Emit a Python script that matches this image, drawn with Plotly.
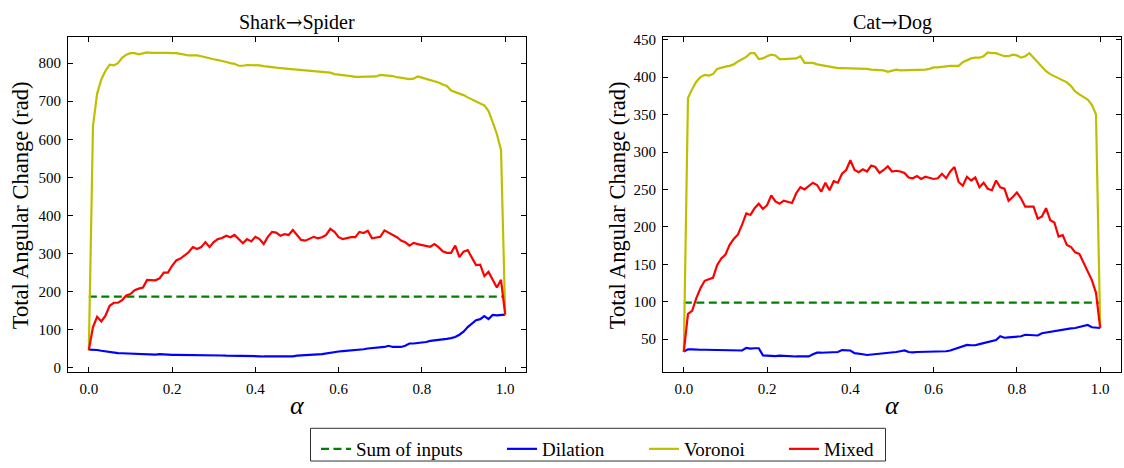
import plotly.graph_objects as go

# Interpolation parameter (sampled every 0.01)
alpha = [round(i * 0.01, 2) for i in range(101)]

# ---- Shark -> Spider ----
shark_sum_inputs = 187
shark_dilation = [
    48, 48, 47, 45, 43, 41, 40, 39, 38.5, 38,
    37, 36.5, 36, 35.5, 35, 34, 35, 36, 35, 34.5,
    34, 34, 34, 33.5, 33.5, 34, 33.5, 33, 33, 33,
    33, 32.5, 32.5, 32, 32, 32, 31.5, 31.5, 31, 31,
    31, 30.5, 30, 30, 30, 30, 30, 30, 30, 30.5,
    32, 33, 34, 34.5, 35, 35.5, 36, 38, 41, 42,
    43, 44, 45, 45, 46, 47, 49, 51, 52, 53,
    54, 55, 58, 55, 55, 55, 58, 64, 64, 65,
    66, 68, 71, 72, 73, 75, 76, 78, 81, 87,
    95, 107, 117, 125, 128, 136, 128, 139, 138, 140,
    140,
]
shark_voronoi = [
    45, 635, 720, 757, 780, 796, 794, 800, 814, 822,
    826, 826, 823, 826, 828, 827, 827, 828, 828, 827,
    826, 826, 824, 821, 820, 820, 820, 818, 815, 812,
    810, 808, 806, 803, 800, 798, 793, 793, 795, 795,
    795, 794, 792, 790, 789, 788, 787, 786, 785, 784,
    783, 782, 781, 780, 779, 778, 777, 777, 775, 771,
    769, 768, 767, 766, 764, 764, 764, 764, 764, 765,
    769, 768, 768, 766, 763, 761, 760, 758, 759, 765,
    762, 759, 756, 752, 749, 744, 740, 728, 724, 722,
    716, 710, 704, 700, 694, 689, 674, 645, 614, 572,
    140,
]
shark_mixed = [
    47, 107, 134, 122, 137, 163, 171, 171, 178, 190,
    194, 204, 208, 211, 231, 231, 230, 235, 250, 250,
    268, 282, 287, 295, 304, 317, 312, 317, 330, 317,
    330, 338, 341, 347, 343, 349, 338, 327, 338, 332,
    344, 338, 325, 344, 357, 355, 347, 351, 349, 362,
    349, 336, 334, 338, 344, 340, 343, 349, 365, 357,
    343, 338, 340, 343, 343, 357, 354, 360, 340, 343,
    344, 361, 355, 349, 343, 334, 330, 321, 328, 325,
    323, 321, 318, 325, 317, 306, 302, 302, 321, 291,
    305, 309, 289, 270, 271, 241, 252, 231, 211, 231,
    140,
]

# ---- Cat -> Dog ----
cat_sum_inputs = 99
cat_dilation = [
    33.5, 36.5, 36.5, 36, 36, 36, 36, 36, 36, 36,
    36, 36, 35.5, 35.5, 35, 38.5, 37.5, 38, 38, 28.5,
    28, 27.5, 27.5, 28, 27.5, 27.5, 27, 27, 27, 27,
    27, 30, 32, 32, 32, 32.5, 32.5, 33, 35.5, 35.5,
    35, 31.5, 31, 30, 29, 29.5, 30, 31, 31.5, 32,
    32.5, 33, 34, 35, 33, 32.5, 33, 33, 33.5, 33.5,
    33.5, 33, 33.5, 34, 35, 37, 39.5, 41, 42.5, 42,
    42, 43.5, 45, 46, 47, 49, 54, 52, 52.5, 53,
    53, 54, 56, 56, 55.5, 55, 58, 59, 59, 60.5,
    61.5, 62.5, 63.5, 64.5, 65, 66, 67.5, 69, 66, 65.5,
    65,
]
cat_voronoi = [
    33, 372, 384, 394, 400, 403, 402, 404, 411, 413,
    414, 415, 417, 421, 424, 427, 432, 432, 424, 425,
    428, 430, 429, 424, 424, 424, 425, 425, 428, 419,
    419, 419, 417, 416, 414, 413, 413, 412, 412, 412,
    412, 412, 412, 411, 411, 410, 410, 410, 409, 407,
    409, 410, 409, 409, 410, 410, 410, 410, 410, 411,
    413, 413, 414, 414, 415, 415, 415, 420, 423, 425,
    426, 426, 428, 433, 432, 432, 430, 428, 428, 430,
    429, 426, 428, 432, 426, 420, 414, 408, 404, 401,
    399, 396, 393, 388, 381, 377, 374, 370, 363, 350,
    65,
]
cat_mixed = [
    33, 84, 88, 105, 118, 128, 130, 132, 149, 158,
    163, 176, 184, 190, 203, 218, 216, 225, 231, 224,
    229, 242, 234, 231, 235, 233, 232, 245, 253, 250,
    255, 259, 256, 247, 259, 249, 261, 259, 271, 276,
    289, 276, 273, 277, 274, 282, 280, 272, 276, 281,
    274, 275, 274, 272, 266, 265, 268, 264, 267, 265,
    264, 265, 271, 265, 274, 280, 260, 255, 267, 262,
    266, 253, 259, 251, 249, 262, 253, 251, 235, 240,
    246, 238, 227, 227, 227, 211, 214, 225, 209, 206,
    187, 189, 176, 173, 166, 164, 153, 142, 129, 112,
    65,
]

ARROW = "<span style=\"font-family:'DejaVu Serif'\">\u2192</span>"
panel_titles = ["Shark" + ARROW + "Spider", "Cat" + ARROW + "Dog"]
series_names = ["Sum of inputs", "Dilation", "Voronoi", "Mixed"]
series_colors = ["#008000", "#0000ff", "#bfbf00", "#ff0000"]

W, H = 1124, 468
FONT = "'Liberation Serif', 'Times New Roman', Times, serif"


def px_x(p):
    return p / W


def px_y(p):
    return (H - p) / H


fig = go.Figure()

panels = [
    (shark_sum_inputs, shark_dilation, shark_voronoi, shark_mixed),
    (cat_sum_inputs, cat_dilation, cat_voronoi, cat_mixed),
]
legend_ids = ["legend", "legend2", "legend3", "legend4"]

for k, (sum_in, dil, vor, mix) in enumerate(panels):
    xa = "x" if k == 0 else "x2"
    ya = "y" if k == 0 else "y2"
    show = k == 0
    fig.add_trace(go.Scatter(
        x=[alpha[0], alpha[-1]], y=[sum_in, sum_in], mode="lines",
        line=dict(color=series_colors[0], width=2.2, dash="8px,4.5px"),
        name=series_names[0], showlegend=show, legend=legend_ids[0],
        xaxis=xa, yaxis=ya))
    for j, ys in enumerate([dil, vor, mix], start=1):
        fig.add_trace(go.Scatter(
            x=alpha, y=ys, mode="lines",
            line=dict(color=series_colors[j], width=2.2),
            name=series_names[j], showlegend=show, legend=legend_ids[j],
            xaxis=xa, yaxis=ya))


def y_range(*series):
    lo = min(min(s) for s in series)
    hi = max(max(s) for s in series)
    pad = 0.05 * (hi - lo)
    return [lo - pad, hi + pad]


axis_common = dict(
    showline=True, linecolor="black", linewidth=1.2, mirror="allticks",
    ticks="inside", ticklen=5, tickwidth=1, tickcolor="black",
    showgrid=False, zeroline=False, ticklabelstandoff=3,
    tickfont=dict(family=FONT, size=15, color="black"),
)

x_dom = [[px_x(68), px_x(526)], [px_x(663), px_x(1121)]]
y_dom = [px_y(375.5), px_y(33)]

fig.update_layout(
    width=W, height=H,
    margin=dict(l=0, r=0, t=0, b=0),
    paper_bgcolor="white", plot_bgcolor="white",
    font=dict(family=FONT, color="black"),
    xaxis=dict(domain=x_dom[0], range=[-0.05, 1.05], tickvals=[0, 0.2, 0.4, 0.6, 0.8, 1.0],
               tickformat=".1f", anchor="y", **axis_common),
    yaxis=dict(domain=y_dom, range=y_range(shark_dilation, shark_voronoi, shark_mixed),
               dtick=100, tick0=0, anchor="x", **axis_common),
    xaxis2=dict(domain=x_dom[1], range=[-0.05, 1.05], tickvals=[0, 0.2, 0.4, 0.6, 0.8, 1.0],
                tickformat=".1f", anchor="y2", **axis_common),
    yaxis2=dict(domain=y_dom, range=y_range(cat_dilation, cat_voronoi, cat_mixed),
                dtick=50, tick0=0, anchor="x2", **axis_common),
)

# One legend per entry so each sits at its own horizontal slot
legend_starts = [316, 502, 644, 784]
for lid, xs in zip(legend_ids, legend_starts):
    fig.update_layout({lid: dict(
        x=px_x(xs), xanchor="left", y=px_y(455), yanchor="middle",
        orientation="h", bgcolor="rgba(0,0,0,0)", borderwidth=0,
        font=dict(family=FONT, size=19, color="black"),
        itemwidth=30, tracegroupgap=0,
    )})

# Frame around the legend row
fig.add_shape(type="rect", xref="paper", yref="paper",
              x0=px_x(310.5), x1=px_x(885.5), y0=px_y(467), y1=px_y(433.5),
              line=dict(color="#333333", width=1), fillcolor="rgba(0,0,0,0)")

annotations = []
centers = [297, 892]
for k in range(2):
    annotations.append(dict(
        text=panel_titles[k], x=px_x(centers[k]), y=px_y(17), xref="paper", yref="paper",
        showarrow=False, xanchor="center", yanchor="middle",
        font=dict(family=FONT, size=20, color="black")))
    annotations.append(dict(
        text="<i>\u03b1</i>", x=px_x(centers[k]), y=px_y(410), xref="paper", yref="paper",
        showarrow=False, xanchor="center", yanchor="middle",
        font=dict(family=FONT, size=26, color="black")))
for xc in [20, 617]:
    annotations.append(dict(
        text="Total Angular Change (rad)", x=px_x(xc), y=px_y(205), xref="paper", yref="paper",
        showarrow=False, xanchor="center", yanchor="middle", textangle=-90,
        font=dict(family=FONT, size=22.5, color="black")))
fig.update_layout(annotations=annotations)

fig.write_html("out.html")
